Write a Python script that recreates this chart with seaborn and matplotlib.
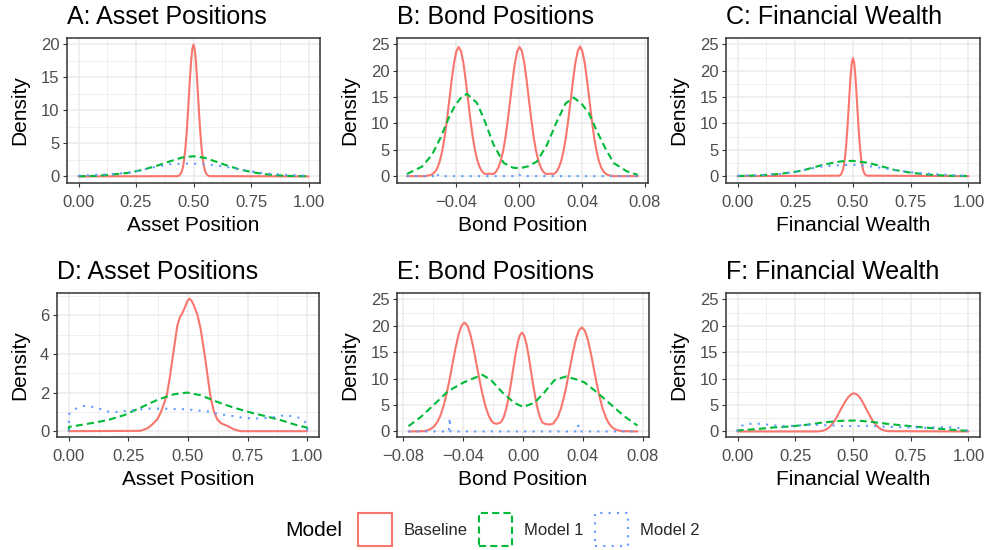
import matplotlib
matplotlib.use("Agg")
import matplotlib.pyplot as plt
import seaborn as sns
import pandas as pd
from matplotlib.patches import Patch
from matplotlib.ticker import FixedLocator, MultipleLocator
from matplotlib.transforms import Bbox

# ---------------- data ----------------
MODELS = ["Baseline", "Model 1", "Model 2"]
COLORS = ["#F8766D", "#00BA38", "#619CFF"]
TITLES = ["A: Asset Positions", "B: Bond Positions", "C: Financial Wealth",
          "D: Asset Positions", "E: Bond Positions", "F: Financial Wealth"]
XLABELS = ["Asset Position", "Bond Position", "Financial Wealth",
           "Asset Position", "Bond Position", "Financial Wealth"]

UNIT_TICKS = [0.0, 0.25, 0.5, 0.75, 1.0]
UNIT_TICKLABELS = ["0.00", "0.25", "0.50", "0.75", "1.00"]
B_XTICKS = [-0.04, 0.0, 0.04, 0.08]
B_XTICKLABELS = ["\u22120.04", "0.00", "0.04", "0.08"]
E_XTICKS = [-0.08, -0.04, 0.0, 0.04, 0.08]
E_XTICKLABELS = ["\u22120.08", "\u22120.04", "0.00", "0.04", "0.08"]
A_YTICKS = [0, 5, 10, 15, 20]
Y25_TICKS = [0, 5, 10, 15, 20, 25]
D_YTICKS = [0, 2, 4, 6]

# Panel A
A_BASE_X = [0.0, 0.43, 0.435, 0.44, 0.445, 0.45, 0.455, 0.46, 0.465, 0.47, 0.475, 0.48, 0.485,
            0.49, 0.495, 0.50, 0.505, 0.51, 0.515, 0.52, 0.525, 0.53, 0.535, 0.54, 0.545, 0.55,
            0.555, 0.56, 0.565, 0.57, 1.0]
A_BASE_Y = [0, 0.04, 0.1, 0.22, 0.45, 0.87, 1.58, 2.69, 4.30, 6.46, 9.11, 12.07, 15.02, 17.56,
            19.29, 19.9, 19.29, 17.56, 15.02, 12.07, 9.11, 6.46, 4.30, 2.69, 1.58, 0.87, 0.45,
            0.22, 0.1, 0.04, 0]
A_M1_X = [0.0, 0.08, 0.15, 0.22, 0.28, 0.34, 0.40, 0.45, 0.50, 0.55, 0.60, 0.65, 0.70, 0.76, 0.82, 0.90, 1.0]
A_M1_Y = [0.02, 0.08, 0.3, 0.55, 1.0, 1.6, 2.3, 2.85, 3.05, 2.8, 2.2, 1.6, 1.05, 0.6, 0.3, 0.08, 0.02]
A_M2_X = [0.0, 0.05, 0.12, 0.20, 0.27, 0.33, 0.40, 0.46, 0.52, 0.58, 0.64, 0.71, 0.78, 0.85, 0.93, 1.0]
A_M2_Y = [0.1, 0.2, 0.3, 0.5, 0.9, 1.4, 1.85, 1.95, 1.9, 1.75, 1.45, 1.0, 0.6, 0.35, 0.2, 0.1]

# Panel B
B_BASE_X = [-0.0716, -0.060,
            -0.0566, -0.0551, -0.0536, -0.0521, -0.0506, -0.0491, -0.0476, -0.0461, -0.0446,
            -0.0431, -0.0416, -0.0401, -0.0386, -0.0371, -0.0356, -0.0341, -0.0326, -0.0311,
            -0.0296, -0.0281, -0.0266, -0.0251, -0.0236, -0.0221,
            -0.0192,
            -0.0163, -0.0148, -0.0133, -0.0118, -0.0103, -0.0088, -0.0073, -0.0058, -0.0043,
            -0.0028, -0.0013, 0.0002, 0.0017, 0.0032, 0.0047, 0.0062, 0.0077, 0.0092, 0.0107,
            0.0122, 0.0137, 0.0152, 0.0167,
            0.0195,
            0.0222, 0.0237, 0.0252, 0.0267, 0.0282, 0.0297, 0.0312, 0.0327, 0.0342, 0.0357,
            0.0372, 0.0387, 0.0402, 0.0417, 0.0432, 0.0447, 0.0462, 0.0477, 0.0492, 0.0507,
            0.0522, 0.0537, 0.0552, 0.0567,
            0.060, 0.0755]
B_BASE_Y = [0, 0,
            0.2, 0.43, 0.86, 1.63, 2.88, 4.76, 7.35, 10.62, 14.36, 18.13, 21.44, 23.69, 24.5,
            23.69, 21.44, 18.13, 14.36, 10.62, 7.35, 4.76, 2.88, 1.63, 0.86, 0.43,
            0.45,
            0.43, 0.86, 1.63, 2.88, 4.76, 7.35, 10.62, 14.36, 18.13, 21.44, 23.69, 24.5, 23.69,
            21.44, 18.13, 14.36, 10.62, 7.35, 4.76, 2.88, 1.63, 0.86, 0.43,
            0.45,
            0.43, 0.86, 1.63, 2.88, 4.76, 7.35, 10.62, 14.36, 18.13, 21.44, 23.69, 24.6, 23.69,
            21.44, 18.13, 14.36, 10.62, 7.35, 4.76, 2.88, 1.63, 0.86, 0.43, 0.2,
            0, 0]
B_M1_X = [-0.0716, -0.062, -0.0556, -0.0503, -0.045, -0.0408, -0.0365, -0.0333, -0.027, -0.0227,
          -0.0163, -0.0099, -0.004, 0.0006, 0.006, 0.0113, 0.0176, 0.024, 0.0295, 0.0346,
          0.0395, 0.0442, 0.0495, 0.0548, 0.0601, 0.0686, 0.0755]
B_M1_Y = [0.4, 1.8, 4.05, 7.2, 11.0, 13.5, 15.1, 15.6, 13.9, 11.0, 5.9, 2.5, 1.6, 1.5, 1.9,
          2.8, 5.9, 10.4, 13.8, 14.9, 13.8, 12.0, 8.5, 5.3, 2.5, 0.9, 0.25]
B_M2_X = [-0.0716, -0.0535, -0.0525, -0.0515, -0.001, 0.0, 0.001, 0.0755]
B_M2_Y = [0, 0, 0.6, 0, 0, 0.3, 0, 0]

# Panel C
C_BASE_X = [0.0, 0.44, 0.445, 0.45, 0.455, 0.46, 0.465, 0.47, 0.475, 0.48, 0.485, 0.49, 0.495,
            0.50, 0.505, 0.51, 0.515, 0.52, 0.525, 0.53, 0.535, 0.54, 0.545, 0.55, 0.555, 0.56, 1.0]
C_BASE_Y = [0, 0.09, 0.21, 0.47, 0.98, 1.90, 3.38, 5.59, 8.54, 12.08, 15.83, 19.2, 21.55, 22.4,
            21.55, 19.2, 15.83, 12.08, 8.54, 5.59, 3.38, 1.90, 0.98, 0.47, 0.21, 0.09, 0]
C_M1_X = [0.0, 0.10, 0.186, 0.25, 0.30, 0.374, 0.447, 0.497, 0.563, 0.62, 0.678, 0.751, 0.823, 0.91, 1.0]
C_M1_Y = [0.02, 0.15, 0.45, 0.8, 1.3, 2.2, 2.8, 2.9, 2.55, 1.9, 1.2, 0.65, 0.3, 0.08, 0.02]
C_M2_X = [0.0, 0.10, 0.19, 0.27, 0.36, 0.447, 0.52, 0.59, 0.678, 0.765, 0.85, 0.94, 1.0]
C_M2_Y = [0.1, 0.2, 0.4, 1.0, 1.8, 2.1, 2.15, 1.8, 1.15, 0.65, 0.4, 0.2, 0.06]

# Panel D
D_BASE_X = [0.0, 0.30, 0.33, 0.35, 0.371, 0.385, 0.40, 0.413, 0.424, 0.434, 0.445, 0.455, 0.466,
            0.476, 0.483, 0.49, 0.498, 0.506, 0.515, 0.525, 0.54, 0.553, 0.563, 0.573, 0.584,
            0.594, 0.607, 0.622, 0.64, 0.664, 0.68, 0.692, 0.72, 1.0]
D_BASE_Y = [0, 0.02, 0.15, 0.35, 0.62, 0.95, 1.45, 2.0, 2.8, 3.7, 4.6, 5.45, 5.9, 6.1, 6.3,
            6.5, 6.75, 6.86, 6.75, 6.5, 6.0, 5.3, 4.5, 3.7, 2.7, 1.83, 1.1, 0.62, 0.4, 0.28,
            0.18, 0.1, 0, 0]
D_M1_X = [0.0, 0.0, 0.092, 0.162, 0.232, 0.301, 0.371, 0.441, 0.497, 0.553, 0.622, 0.692,
          0.762, 0.831, 0.901, 0.957, 0.999, 1.0]
D_M1_Y = [0, 0.22, 0.41, 0.57, 0.83, 1.22, 1.62, 1.91, 2.0, 1.86, 1.52, 1.22, 0.97, 0.76,
          0.53, 0.31, 0.19, 0]
D_M2_X = [0.0, 0.0, 0.03, 0.064, 0.099, 0.134, 0.162, 0.2, 0.239, 0.27, 0.308, 0.343, 0.413,
          0.45, 0.48, 0.52, 0.559, 0.594, 0.629, 0.664, 0.699, 0.734, 0.769, 0.80, 0.84,
          0.873, 0.908, 0.943, 0.978, 1.0, 1.0]
D_M2_Y = [0, 0.88, 1.17, 1.31, 1.26, 1.14, 1.02, 1.0, 1.05, 1.09, 1.14, 1.17, 1.16, 1.14,
          1.14, 1.1, 1.05, 1.0, 0.88, 0.83, 0.76, 0.69, 0.66, 0.66, 0.69, 0.76, 0.83, 0.76,
          0.66, 0.36, 0]

# Panel E
E_BASE_X = [-0.0765, -0.066, -0.0631, -0.0611, -0.0591, -0.0571, -0.0551, -0.0531, -0.0511,
            -0.0491, -0.0471, -0.0451, -0.0431, -0.0411, -0.0391, -0.0371, -0.0351, -0.0331,
            -0.0311, -0.0291, -0.0271, -0.0251, -0.0231, -0.0211, -0.0193, -0.0175, -0.0157,
            -0.0142, -0.0127, -0.0112, -0.0097, -0.0082, -0.0067, -0.0052, -0.0037, -0.0022,
            -0.0007, 0.0008, 0.0023, 0.0038, 0.0053, 0.0068, 0.0083, 0.0098, 0.0113, 0.0128,
            0.0145, 0.0176, 0.0203, 0.0233, 0.0253, 0.0273, 0.0293, 0.0313, 0.0333, 0.0353,
            0.0373, 0.0393, 0.0413, 0.0433, 0.0453, 0.0473, 0.0493, 0.0513, 0.0533, 0.0553,
            0.0573, 0.0593, 0.0613, 0.0633, 0.066, 0.0765]
E_BASE_Y = [0, 0.05, 0.28, 0.56, 1.05, 1.85, 3.07, 4.8, 7.07, 9.79, 12.79, 15.76, 18.29, 20.0,
            20.6, 20.0, 18.29, 15.76, 12.79, 9.79, 7.07, 4.8, 3.1, 2.0, 1.55, 1.45, 1.6,
            1.95, 2.85, 4.3, 6.3, 8.78, 11.52, 14.25, 16.57, 18.14, 18.7, 18.14, 16.57, 14.25,
            11.52, 8.78, 6.30, 4.25, 2.75, 1.75, 1.45, 1.3, 1.5, 2.75, 4.3, 6.4, 9.02, 11.95,
            14.87, 17.39, 19.09, 19.7, 19.09, 17.39, 14.87, 11.95, 9.02, 6.4, 4.26, 2.67, 1.57,
            0.86, 0.45, 0.22, 0.05, 0]
E_M1_X = [-0.0765, -0.068, -0.059, -0.0502, -0.0402, -0.0302, -0.027, -0.0213, -0.0135,
          -0.0057, 0.0, 0.0076, 0.0143, 0.021, 0.0287, 0.035, 0.041, 0.0498, 0.0587, 0.0676, 0.0765]
E_M1_Y = [1.0, 2.8, 5.2, 7.6, 9.2, 10.4, 10.7, 9.7, 7.3, 5.4, 4.65, 5.4, 7.4, 9.7, 10.4, 9.9,
          9.3, 7.3, 5.1, 2.9, 1.1]
E_M2_X = [-0.0765, -0.0495, -0.049, -0.0485, 0.0365, 0.037, 0.0375, 0.0765]
E_M2_Y = [0, 0, 2.6, 0, 0, 1.1, 0, 0]

# Panel F
F_BASE_X = [0.0, 0.35, 0.37, 0.38, 0.39, 0.40, 0.41, 0.42, 0.43, 0.44, 0.45, 0.46, 0.47, 0.48,
            0.49, 0.50, 0.51, 0.52, 0.53, 0.54, 0.55, 0.56, 0.57, 0.58, 0.59, 0.60, 0.61, 0.62,
            0.635, 0.65, 1.0]
F_BASE_Y = [0, 0, 0.15, 0.3, 0.55, 0.9, 1.4, 2.0, 2.75, 3.6, 4.4, 5.2, 5.9, 6.5, 6.95, 7.2,
            7.15, 6.9, 6.4, 5.7, 4.9, 4.0, 3.2, 2.4, 1.75, 1.2, 0.8, 0.45, 0.2, 0.05, 0]
F_M1_X = [0.0, 0.0, 0.081, 0.154, 0.226, 0.299, 0.371, 0.444, 0.516, 0.589, 0.661, 0.734,
          0.806, 0.878, 0.951, 1.0]
F_M1_Y = [0, 0.2, 0.44, 0.75, 0.94, 1.26, 1.7, 2.0, 2.08, 1.76, 1.38, 1.07, 0.75, 0.5, 0.25, 0.12]
F_M2_X = [0.0, 0.0, 0.038, 0.074, 0.11, 0.146, 0.18, 0.22, 0.255, 0.30, 0.33, 0.40, 0.44,
          0.47, 0.52, 0.58, 0.62, 0.69, 0.76, 0.81, 0.88, 0.91, 0.95, 0.98, 1.0]
F_M2_Y = [0, 0.8, 1.4, 1.5, 1.4, 1.2, 1.07, 1.0, 1.13, 1.2, 1.26, 1.13, 1.07, 1.0, 1.02,
          1.07, 0.94, 0.82, 0.75, 0.7, 0.82, 0.82, 0.7, 0.44, 0]

# ---------------- styling ----------------
sns.set_theme(style="white")
plt.rcParams["font.family"] = ["Liberation Sans", "DejaVu Sans"]

LW = 1.5
STYLES = ["-", (0, (3.4, 2.0)), (0, (1.0, 3.0))]
GRID_COLOR = "#EBEBEB"
DARK = "#333333"

fig = plt.figure(figsize=(9.84, 5.5), dpi=100)
W, H = 984.0, 550.0


def rect(l, t, r, b):
    return [l / W, 1 - b / H, (r - l) / W, (b - t) / H]


panels = [
    dict(pos=rect(67, 38, 320, 183), curves=[(A_BASE_X, A_BASE_Y), (A_M1_X, A_M1_Y), (A_M2_X, A_M2_Y)],
         xt=UNIT_TICKS, xtl=UNIT_TICKLABELS, yt=A_YTICKS, xlim=(-0.05, 1.05), ylim=(-0.995, 20.9),
         xm=0.125, ym=2.5, clip=False),
    dict(pos=rect(397, 38, 648, 183), curves=[(B_BASE_X, B_BASE_Y), (B_M1_X, B_M1_Y), (B_M2_X, B_M2_Y)],
         xt=B_XTICKS, xtl=B_XTICKLABELS, yt=Y25_TICKS, xlim=(-0.0779, 0.0820), ylim=(-1.3, 26.2),
         xm=0.02, ym=2.5, clip=True),
    dict(pos=rect(726, 38, 980, 183), curves=[(C_BASE_X, C_BASE_Y), (C_M1_X, C_M1_Y), (C_M2_X, C_M2_Y)],
         xt=UNIT_TICKS, xtl=UNIT_TICKLABELS, yt=Y25_TICKS, xlim=(-0.05, 1.05), ylim=(-1.3, 26.2),
         xm=0.125, ym=2.5, clip=False),
    dict(pos=rect(57, 293, 319, 437), curves=[(D_BASE_X, D_BASE_Y), (D_M1_X, D_M1_Y), (D_M2_X, D_M2_Y)],
         xt=UNIT_TICKS, xtl=UNIT_TICKLABELS, yt=D_YTICKS, xlim=(-0.05, 1.05), ylim=(-0.3, 7.15),
         xm=0.125, ym=1.0, clip=False),
    dict(pos=rect(397, 293, 649, 437), curves=[(E_BASE_X, E_BASE_Y), (E_M1_X, E_M1_Y), (E_M2_X, E_M2_Y)],
         xt=E_XTICKS, xtl=E_XTICKLABELS, yt=Y25_TICKS, xlim=(-0.0842, 0.0842), ylim=(-1.05, 26.2),
         xm=0.02, ym=2.5, clip=True),
    dict(pos=rect(726, 293, 980, 437), curves=[(F_BASE_X, F_BASE_Y), (F_M1_X, F_M1_Y), (F_M2_X, F_M2_Y)],
         xt=UNIT_TICKS, xtl=UNIT_TICKLABELS, yt=Y25_TICKS, xlim=(-0.05, 1.05), ylim=(-1.05, 26.2),
         xm=0.125, ym=2.5, clip=False),
]

for i, p in enumerate(panels):
    ax = fig.add_axes(p["pos"])
    ax.set_facecolor("white")
    for (xs, ys), model, color, ls in zip(p["curves"], MODELS, COLORS, STYLES):
        df = pd.DataFrame({"x": xs, "y": ys})
        sns.lineplot(data=df, x="x", y="y", ax=ax, color=color, linewidth=LW,
                     linestyle=ls, sort=False, estimator=None, legend=False)
    ax.set_xlim(*p["xlim"])
    ax.set_ylim(*p["ylim"])
    ax.xaxis.set_major_locator(FixedLocator(p["xt"]))
    ax.set_xticklabels(p["xtl"])
    ax.yaxis.set_major_locator(FixedLocator(p["yt"]))
    ax.set_yticklabels([str(v) for v in p["yt"]])
    ax.xaxis.set_minor_locator(MultipleLocator(p["xm"]))
    ax.yaxis.set_minor_locator(MultipleLocator(p["ym"]))
    ax.grid(which="major", color=GRID_COLOR, linewidth=1.1, zorder=0)
    ax.grid(which="minor", color=GRID_COLOR, linewidth=0.55, zorder=0)
    ax.set_axisbelow(True)
    ax.tick_params(axis="x", which="major", length=3.0, width=0.8, color=DARK, labelsize=12,
                   labelcolor="#4D4D4D", pad=5.5, bottom=True)
    ax.tick_params(axis="y", which="major", length=3.0, width=0.8, color=DARK, labelsize=12,
                   labelcolor="#4D4D4D", pad=2.5, left=True)
    ax.tick_params(which="minor", length=0)
    for s in ax.spines.values():
        s.set_color(DARK)
        s.set_linewidth(1.1)
        s.set_visible(True)
    ax.set_xlabel(XLABELS[i], fontsize=15, color="black", labelpad=4.5)
    ax.set_ylabel("Density", fontsize=15, color="black", labelpad=8)
    ax.set_title(TITLES[i], loc="left", fontsize=18, color="black", pad=10)
    if p["clip"]:
        for lab in ax.get_xticklabels():
            lab.set_clip_box(Bbox([[0, 0], [660, 550]]))
            lab.set_clip_on(True)

handles = [Patch(facecolor="white", edgecolor=c, linewidth=LW, linestyle=ls)
           for c, ls in zip(COLORS, STYLES)]
fig.legend(handles, MODELS, loc="center", bbox_to_anchor=(529 / W, 1 - 529.5 / H), ncol=3,
           frameon=False, fontsize=12, handlelength=2.0, handleheight=2.67,
           handletextpad=0.7, columnspacing=0.7, borderpad=0, borderaxespad=0)
fig.text(285 / W, 1 - 531 / H, "Model", fontsize=15, ha="left", va="center", color="black")

fig.savefig("out.png", dpi=100)
